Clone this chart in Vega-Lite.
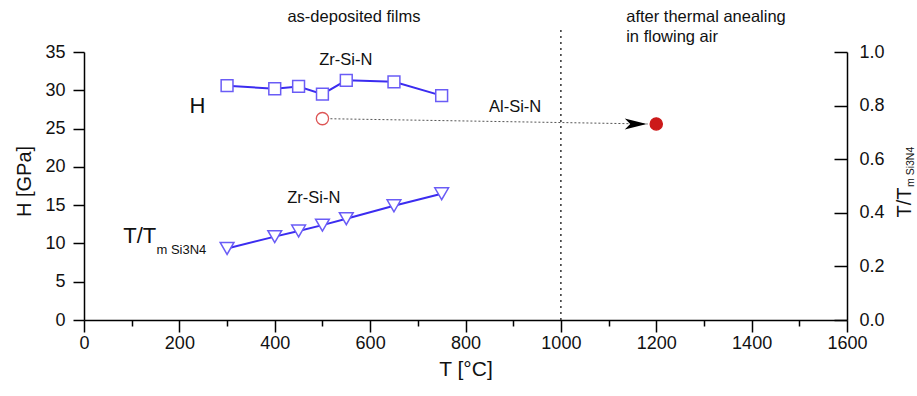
{
  "$schema": "https://vega.github.io/schema/vega-lite/v6.json",
  "width": 763,
  "height": 268,
  "autosize": {"type": "none"},
  "padding": {"left": 84, "top": 52, "right": 70, "bottom": 76},
  "background": "white",
  "config": {
    "view": {"stroke": null},
    "font": "Liberation Sans",
    "axis": {"grid": false, "domainColor": "black", "tickColor": "black", "labelColor": "#111", "titleColor": "#111", "domainWidth": 1.5, "tickWidth": 1.5, "labelFont": "Liberation Sans", "titleFont": "Liberation Sans", "titleFontWeight": "normal"}
  },
  "datasets": {
    "zrH": [
      {"T": 300, "H": 30.6}, {"T": 400, "H": 30.2}, {"T": 450, "H": 30.5}, {"T": 500, "H": 29.5},
      {"T": 550, "H": 31.3}, {"T": 650, "H": 31.1}, {"T": 750, "H": 29.3}
    ],
    "zrRatio": [
      {"T": 300, "ratio": 0.267}, {"T": 400, "ratio": 0.311}, {"T": 450, "ratio": 0.332}, {"T": 500, "ratio": 0.354},
      {"T": 550, "ratio": 0.378}, {"T": 650, "ratio": 0.426}, {"T": 750, "ratio": 0.471}
    ],
    "alH": [
      {"T": 500, "H": 26.3, "state": "as-deposited"},
      {"T": 1200, "H": 25.6, "state": "annealed in air"}
    ],
    "arrow": [{"T": 500, "H": 26.3, "T2": 1182, "H2": 25.6}],
    "arrowHead": [{"T": 1157, "H": 25.6}],
    "divider": [{"T": 1000, "H": 0, "H2": 38.3}],
    "bigLabels": [
      {"T": 238, "H": 28.0, "label": "H"},
      {"T": 117, "H": 11.0, "label": "T/T"}
    ],
    "midLabels": [
      {"T": 549, "H": 34.0, "label": "Zr-Si-N"},
      {"T": 482, "H": 15.9, "label": "Zr-Si-N"},
      {"T": 904, "H": 27.8, "label": "Al-Si-N"},
      {"T": 566, "H": 39.6, "label": "as-deposited films"}
    ],
    "leftLabels": [
      {"T": 1137, "H": 39.6, "label": "after thermal anealing"},
      {"T": 1137, "H": 37.0, "label": "in flowing air"},
      {"T": 152, "H": 9.2, "label": "m Si3N4"}
    ],
    "rightSub": [{"T": 1734, "H": 20.0, "label": "m Si3N4"}]
  },
  "resolve": {"scale": {"y": "independent"}},
  "layer": [
    {
      "data": {"name": "zrH"},
      "mark": {"type": "line", "color": "#3b2cf0", "strokeWidth": 2},
      "encoding": {
        "x": {"field": "T", "type": "quantitative",
              "scale": {"domain": [0, 1600], "nice": false, "zero": false},
              "axis": {"title": "T [°C]", "orient": "bottom",
                       "values": [0, 100, 200, 300, 400, 500, 600, 700, 800, 900, 1000, 1100, 1200, 1300, 1400, 1500, 1600],
                       "labelExpr": "datum.value % 200 == 0 ? datum.label : ''",
                       "format": "d",
                       "tickSize": {"condition": {"test": "datum.value % 200 == 0", "value": 12}, "value": 6},
                       "labelPadding": 2, "labelFontSize": 18, "titleFontSize": 21, "titlePadding": 6,
                       "labelFlush": false, "labelOverlap": false}},
        "y": {"field": "H", "type": "quantitative",
              "scale": {"domain": [0, 35], "nice": false},
              "axis": {"title": "H [GPa]", "orient": "left", "values": [0, 5, 10, 15, 20, 25, 30, 35],
                       "tickSize": 11, "labelPadding": 8, "labelFontSize": 18, "titleFontSize": 20,
                       "titleAngle": 270, "titleX": -60, "titleY": 129, "titleAlign": "center", "titleBaseline": "middle",
                       "labelFlush": false, "labelOverlap": false}}
      }
    },
    {
      "data": {"name": "zrRatio"},
      "mark": {"type": "line", "color": "#3b2cf0", "strokeWidth": 2},
      "encoding": {
        "x": {"field": "T", "type": "quantitative"},
        "y": {"field": "ratio", "type": "quantitative",
              "scale": {"domain": [0, 1], "nice": false},
              "axis": {"title": "T/T", "orient": "right", "values": [0, 0.2, 0.4, 0.6, 0.8, 1.0], "format": ".1f",
                       "tickSize": -13, "labelPadding": 25, "labelFontSize": 18, "titleFontSize": 20,
                       "titleAngle": 270, "titleX": 57, "titleY": 150, "titleAlign": "center", "titleBaseline": "middle",
                       "labelFlush": false, "labelOverlap": false}}
      }
    },
    {
      "data": {"name": "zrH"},
      "mark": {"type": "point", "shape": "square", "filled": true, "fill": "white", "stroke": "#6a5cf6", "strokeWidth": 1.5, "size": 140, "opacity": 1},
      "encoding": {
        "x": {"field": "T", "type": "quantitative"},
        "y": {"field": "H", "type": "quantitative", "scale": {"domain": [0, 35], "nice": false}, "axis": null}
      }
    },
    {
      "data": {"name": "zrRatio"},
      "mark": {"type": "point", "shape": "triangle-down", "filled": true, "fill": "white", "stroke": "#6a5cf6", "strokeWidth": 1.5, "size": 190, "opacity": 1},
      "encoding": {
        "x": {"field": "T", "type": "quantitative"},
        "y": {"field": "ratio", "type": "quantitative", "scale": {"domain": [0, 1], "nice": false}, "axis": null}
      }
    },
    {
      "data": {"name": "divider"},
      "mark": {"type": "rule", "color": "#333", "strokeWidth": 1.5, "strokeDash": [2, 4], "clip": false},
      "encoding": {
        "x": {"field": "T", "type": "quantitative"},
        "y": {"field": "H", "type": "quantitative", "scale": {"domain": [0, 35], "nice": false}, "axis": null},
        "y2": {"field": "H2"}
      }
    },
    {
      "data": {"name": "arrow"},
      "mark": {"type": "rule", "color": "#555", "strokeWidth": 1, "strokeDash": [2, 2]},
      "encoding": {
        "x": {"field": "T", "type": "quantitative"},
        "x2": {"field": "T2"},
        "y": {"field": "H", "type": "quantitative", "scale": {"domain": [0, 35], "nice": false}, "axis": null},
        "y2": {"field": "H2"}
      }
    },
    {
      "data": {"name": "arrowHead"},
      "mark": {"type": "point", "shape": "M-1.1,-0.55 L1.1,0 L-1.1,0.55 L-0.55,0 Z", "filled": true, "color": "black", "size": 400, "opacity": 1},
      "encoding": {
        "x": {"field": "T", "type": "quantitative"},
        "y": {"field": "H", "type": "quantitative", "scale": {"domain": [0, 35], "nice": false}, "axis": null}
      }
    },
    {
      "data": {"name": "alH"},
      "mark": {"type": "point", "shape": "circle", "size": 150, "strokeWidth": 1.3, "opacity": 1},
      "encoding": {
        "x": {"field": "T", "type": "quantitative"},
        "y": {"field": "H", "type": "quantitative", "scale": {"domain": [0, 35], "nice": false}, "axis": null},
        "fill": {"field": "state", "type": "nominal", "scale": {"domain": ["as-deposited", "annealed in air"], "range": ["white", "#cc1a1a"]}, "legend": null},
        "stroke": {"field": "state", "type": "nominal", "scale": {"domain": ["as-deposited", "annealed in air"], "range": ["#dd5555", "#cc1a1a"]}, "legend": null}
      }
    },
    {
      "data": {"name": "bigLabels"},
      "mark": {"type": "text", "fontSize": 22, "align": "center", "baseline": "middle", "color": "#111", "clip": false},
      "encoding": {
        "x": {"field": "T", "type": "quantitative"},
        "y": {"field": "H", "type": "quantitative", "scale": {"domain": [0, 35], "nice": false}, "axis": null},
        "text": {"field": "label"}
      }
    },
    {
      "data": {"name": "midLabels"},
      "mark": {"type": "text", "fontSize": 16.5, "align": "center", "baseline": "middle", "color": "#111", "clip": false},
      "encoding": {
        "x": {"field": "T", "type": "quantitative"},
        "y": {"field": "H", "type": "quantitative", "scale": {"domain": [0, 35], "nice": false}, "axis": null},
        "text": {"field": "label"}
      }
    },
    {
      "data": {"name": "leftLabels"},
      "mark": {"type": "text", "fontSize": 16.5, "align": "left", "baseline": "middle", "color": "#111", "clip": false},
      "encoding": {
        "x": {"field": "T", "type": "quantitative"},
        "y": {"field": "H", "type": "quantitative", "scale": {"domain": [0, 35], "nice": false}, "axis": null},
        "text": {"field": "label"},
        "size": {"condition": {"test": "datum.label == 'm Si3N4'", "value": 13}, "value": 16.5}
      }
    },
    {
      "data": {"name": "rightSub"},
      "mark": {"type": "text", "fontSize": 10.5, "align": "center", "baseline": "middle", "angle": 270, "color": "#111", "clip": false},
      "encoding": {
        "x": {"field": "T", "type": "quantitative"},
        "y": {"field": "H", "type": "quantitative", "scale": {"domain": [0, 35], "nice": false}, "axis": null},
        "text": {"field": "label"}
      }
    }
  ]
}
